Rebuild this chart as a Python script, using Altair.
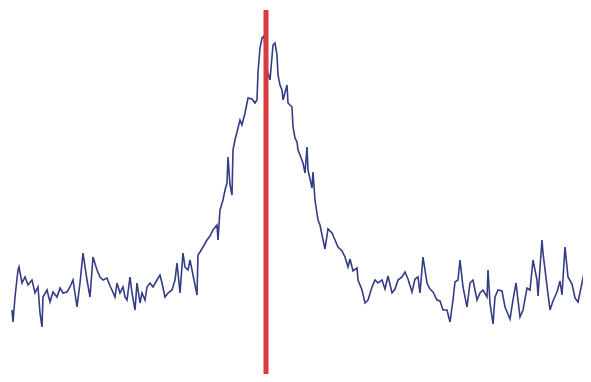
import altair as alt
import pandas as pd

# trace: horizontal position and signal level
pos = [12, 13, 15, 18, 19, 22, 25, 28, 32, 35, 38, 40, 42, 43, 47, 50, 53, 57, 60, 63,
       67, 70, 73, 77, 80, 83, 87, 90, 93, 97, 100, 103, 107, 110, 112, 115, 117, 120, 123, 125,
       127, 130, 132, 135, 137, 140, 142, 145, 147, 150, 153, 157, 160, 162, 165, 168, 172, 175, 177, 180,
       183, 185, 188, 190, 193, 197, 198, 200, 203, 207, 210, 213, 217, 218, 220, 223, 225, 227, 228, 230,
       232, 233, 235, 237, 240, 242, 245, 248, 252, 255, 257, 258, 260, 262, 264, 267, 270, 273, 275, 277,
       278, 280, 282, 283, 287, 288, 292, 293, 295, 297, 298, 300, 303, 305, 307, 308, 312, 313, 315, 318,
       320, 322, 325, 328, 332, 335, 338, 342, 345, 348, 350, 353, 357, 358, 362, 365, 368, 372, 375, 378,
       382, 385, 388, 392, 395, 398, 402, 405, 408, 412, 415, 418, 420, 423, 427, 430, 433, 437, 440, 443,
       447, 450, 453, 455, 458, 460, 463, 467, 470, 473, 477, 480, 483, 487, 488, 490, 493, 495, 498, 502,
       505, 510, 513, 516, 520, 523, 527, 530, 533, 537, 538, 542, 543, 547, 550, 553, 557, 560, 562, 565,
       568, 572, 575, 578, 582, 585, 588]
pix = [310, 322, 297, 270, 267, 283, 277, 285, 280, 293, 287, 313, 327, 297, 290, 302, 292, 297, 288, 293,
       292, 287, 280, 307, 283, 253, 280, 297, 257, 270, 277, 280, 278, 286, 290, 297, 283, 293, 287, 297,
       300, 277, 293, 310, 283, 303, 293, 300, 287, 283, 287, 280, 275, 283, 297, 293, 290, 280, 263, 293,
       253, 267, 270, 260, 275, 295, 255, 252, 247, 240, 236, 230, 225, 240, 210, 200, 190, 183, 157, 185,
       195, 150, 140, 132, 120, 125, 113, 98, 99, 103, 100, 72, 48, 38, 36, 70, 80, 45, 43, 55,
       75, 85, 90, 100, 85, 103, 107, 127, 138, 142, 150, 155, 163, 173, 147, 170, 188, 172, 200, 220,
       225, 235, 249, 229, 233, 240, 247, 251, 257, 267, 259, 271, 268, 280, 290, 303, 300, 287, 280, 283,
       280, 289, 276, 293, 289, 280, 277, 272, 279, 292, 279, 277, 293, 257, 283, 289, 292, 300, 301, 310,
       310, 322, 300, 282, 280, 260, 287, 307, 283, 280, 300, 293, 290, 297, 270, 303, 324, 297, 290, 291,
       307, 319, 300, 283, 317, 310, 288, 290, 260, 280, 296, 240, 253, 286, 310, 301, 292, 281, 295, 247,
       277, 284, 298, 302, 283, 268, 264]

# red marker
marker_pos = [266]
marker_top = [10]
marker_bottom = [378]

H = 382
df = pd.DataFrame({"x": pos, "y": [H - p for p in pix]})
mk = pd.DataFrame({"x": marker_pos, "y": [H - t for t in marker_top], "y2": [H - b for b in marker_bottom]})

xs = alt.Scale(domain=[8, 583], nice=False, zero=False)
ys = alt.Scale(domain=[8, 374], nice=False, zero=False)

trace = alt.Chart(df).mark_line(color="#28327e", strokeWidth=1.6, opacity=0.95).encode(
    x=alt.X("x:Q", scale=xs, axis=None),
    y=alt.Y("y:Q", scale=ys, axis=None),
)
rule = alt.Chart(mk).mark_rule(color="#d93b3c", strokeWidth=5).encode(
    x=alt.X("x:Q", scale=xs, axis=None),
    y=alt.Y("y:Q", scale=ys, axis=None),
    y2="y2:Q",
)

chart = (trace + rule).properties(
    width=575, height=366, padding=0, autosize="none", background="white"
).configure_view(strokeWidth=0, stroke="transparent")

chart.save("out.html", embed_options={"renderer": "svg", "actions": False})
